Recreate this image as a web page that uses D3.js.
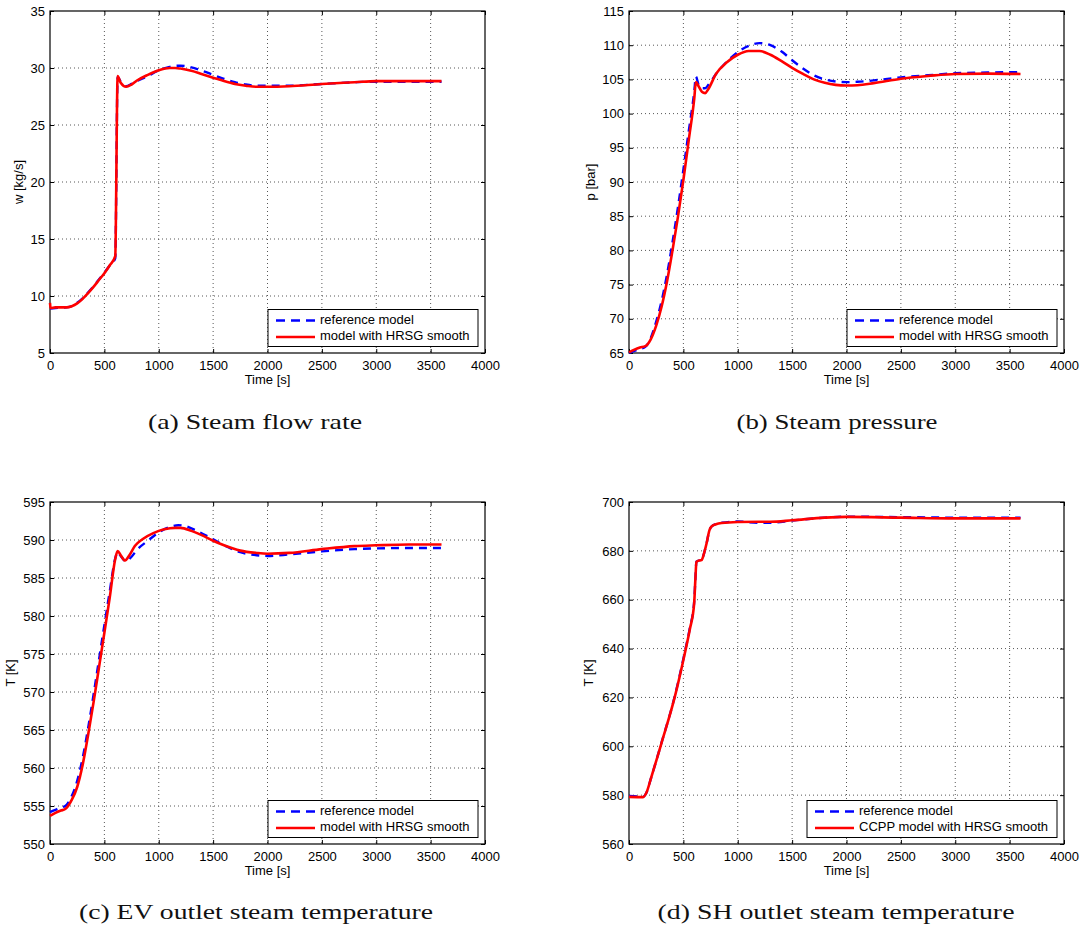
<!DOCTYPE html>
<html>
<head>
<meta charset="utf-8">
<script src="https://cdn.jsdelivr.net/npm/d3@7"></script>
<style>
  html, body { margin: 0; padding: 0; background: #fff; }
  svg { display: block; }
  .tick text { font-family: "Liberation Sans", Arial, sans-serif; font-size: 13px; fill: #000; }
  .lbl { font-family: "Liberation Sans", Arial, sans-serif; font-size: 13px; fill: #000; }
  .cap { font-family: "Liberation Serif", "Times New Roman", serif; font-size: 21px; fill: #111; }
</style>
</head>
<body>
<svg id="fig" width="1090" height="931"></svg>
<script>
// ---- shared axis ticks ----
const timeTicks = [0, 500, 1000, 1500, 2000, 2500, 3000, 3500, 4000];
const flowTicks = [5, 10, 15, 20, 25, 30, 35];
const pressTicks = [65, 70, 75, 80, 85, 90, 95, 100, 105, 110, 115];
const evTempTicks = [550, 555, 560, 565, 570, 575, 580, 585, 590, 595];
const shTempTicks = [560, 580, 600, 620, 640, 660, 680, 700];

const seriesNames = ["reference model", "model with HRSG smooth"];
const seriesNamesSH = ["reference model", "CCPP model with HRSG smooth"];

// ---- (a) steam flow rate [kg/s] ----
const timeFlowRef = [0, 50, 150, 200, 250, 300, 350, 400, 450, 500, 550, 600, 622, 650, 700, 750, 800, 900, 1000, 1100, 1150, 1200, 1300, 1400, 1500, 1600, 1700, 1800, 1900, 2000, 2200, 2500, 2800, 3000, 3300, 3600];
const flowRef = [8.9, 8.95, 9.0, 9.1, 9.4, 9.8, 10.3, 10.85, 11.45, 12.05, 12.7, 13.3, 29.2, 28.8, 28.4, 28.6, 28.85, 29.3, 29.8, 30.1, 30.2, 30.2, 30.05, 29.75, 29.4, 29.05, 28.75, 28.55, 28.45, 28.45, 28.45, 28.6, 28.75, 28.8, 28.8, 28.8];
const timeFlowHrsg = [0, 5, 50, 150, 200, 250, 300, 350, 400, 450, 500, 550, 600, 622, 650, 700, 750, 800, 900, 1000, 1100, 1150, 1200, 1300, 1400, 1500, 1600, 1700, 1800, 1900, 2000, 2200, 2500, 2800, 3000, 3300, 3600];
const flowHrsg = [9.4, 8.95, 9.0, 9.0, 9.1, 9.35, 9.75, 10.25, 10.8, 11.4, 12.0, 12.7, 13.5, 29.3, 28.7, 28.35, 28.55, 28.9, 29.4, 29.8, 30.0, 30.0, 29.95, 29.75, 29.45, 29.15, 28.85, 28.6, 28.45, 28.35, 28.35, 28.4, 28.6, 28.75, 28.85, 28.85, 28.85];

// ---- (b) steam pressure [bar] ----
const timePress = [0, 50, 100, 150, 200, 250, 300, 350, 400, 450, 500, 550, 600, 615, 640, 670, 700, 730, 800, 900, 1000, 1100, 1200, 1300, 1400, 1500, 1600, 1700, 1800, 1900, 2000, 2100, 2250, 2500, 2750, 3000, 3300, 3600];
const pressRef = [65.0, 65.3, 65.6, 65.9, 67.2, 69.6, 72.6, 76.5, 81.2, 86.3, 91.8, 97.5, 103.2, 105.4, 104.2, 103.7, 103.7, 104.2, 105.8, 107.6, 109.0, 109.9, 110.3, 110.0, 109.1, 107.8, 106.6, 105.6, 105.0, 104.7, 104.6, 104.65, 104.85, 105.3, 105.6, 105.9, 106.0, 106.1];
const pressHrsg = [65.1, 65.5, 65.8, 66.0, 67.0, 69.0, 71.8, 75.5, 80.0, 84.9, 90.3, 96.2, 102.2, 104.6, 104.0, 103.2, 103.0, 103.6, 105.8, 107.5, 108.6, 109.15, 109.15, 108.6, 107.7, 106.7, 105.8, 105.0, 104.5, 104.2, 104.1, 104.15, 104.45, 105.1, 105.5, 105.8, 105.85, 105.8];

// ---- (c) EV outlet steam temperature [K] ----
const timeEvRef = [0, 50, 100, 140, 200, 250, 300, 350, 400, 450, 500, 550, 600, 622, 650, 700, 750, 800, 900, 1000, 1100, 1180, 1250, 1350, 1500, 1600, 1750, 1900, 2000, 2200, 2500, 2800, 3000, 3300, 3600];
const evRef = [554.2, 554.5, 554.8, 555.0, 556.3, 558.3, 561.3, 565.2, 569.6, 574.2, 578.8, 583.3, 587.6, 588.4, 587.9, 587.2, 587.8, 588.7, 589.9, 591.0, 591.7, 591.95, 591.8, 591.2, 590.1, 589.3, 588.4, 588.0, 587.9, 588.1, 588.5, 588.8, 588.9, 588.95, 588.95];
const timeEvHrsg = [0, 50, 100, 140, 200, 250, 300, 350, 400, 450, 500, 550, 600, 622, 650, 690, 730, 780, 850, 950, 1050, 1150, 1200, 1300, 1400, 1500, 1600, 1750, 1900, 2000, 2200, 2500, 2800, 3000, 3300, 3600];
const evHrsg = [553.7, 554.1, 554.4, 554.6, 555.8, 557.5, 560.4, 564.3, 568.6, 573.2, 577.8, 582.5, 587.5, 588.55, 588.0, 587.3, 588.0, 589.2, 590.1, 590.9, 591.4, 591.6, 591.6, 591.2, 590.6, 589.9, 589.3, 588.6, 588.3, 588.2, 588.3, 588.8, 589.2, 589.3, 589.4, 589.4];

// ---- (d) SH outlet steam temperature [K] ----
const timeSh = [0, 130, 160, 206, 298, 421, 513, 560, 599, 610, 620, 640, 667, 690, 713, 740, 760, 800, 851, 1000, 1200, 1300, 1500, 1800, 2000, 2500, 3000, 3600];
const shRef = [579.7, 579.4, 581.0, 587.5, 601.3, 620.5, 638.5, 648.5, 659.0, 668.0, 675.6, 676.0, 676.3, 679.0, 683.0, 688.5, 690.0, 691.0, 691.5, 692.0, 691.5, 691.5, 692.4, 693.6, 694.0, 693.8, 693.6, 693.6];
const shHrsg = [579.3, 579.2, 581.0, 587.5, 601.2, 620.2, 638.0, 648.0, 658.4, 668.0, 675.5, 676.0, 676.2, 679.0, 683.0, 688.5, 690.0, 690.9, 691.4, 691.8, 691.9, 691.9, 692.5, 693.6, 693.9, 693.6, 693.3, 693.3];

const svg = d3.select("#fig");

const panels = [
  { left: 50, top: 11, yDomain: [5, 35], yTicks: flowTicks, yLabel: "w [kg/s]", yLabelOff: 30,
    ref: [timeFlowRef, flowRef], hrsg: [timeFlowHrsg, flowHrsg], names: seriesNames, legendW: 210,
    caption: "(a) Steam flow rate", capY: 424, capX: 255, capLen: 214 },
  { left: 629, top: 11, yDomain: [65, 115], yTicks: pressTicks, yLabel: "p [bar]", yLabelOff: 37,
    ref: [timePress, pressRef], hrsg: [timePress, pressHrsg], names: seriesNames, legendW: 210,
    caption: "(b) Steam pressure", capY: 424, capX: 837, capLen: 201 },
  { left: 50, top: 502, yDomain: [550, 595], yTicks: evTempTicks, yLabel: "T [K]", yLabelOff: 38,
    ref: [timeEvRef, evRef], hrsg: [timeEvHrsg, evHrsg], names: seriesNames, legendW: 210,
    caption: "(c) EV outlet steam temperature", capY: 914, capX: 256, capLen: 354 },
  { left: 629, top: 502, yDomain: [560, 700], yTicks: shTempTicks, yLabel: "T [K]", yLabelOff: 39,
    ref: [timeSh, shRef], hrsg: [timeSh, shHrsg], names: seriesNamesSH, legendW: 250,
    caption: "(d) SH outlet steam temperature", capY: 914, capX: 836, capLen: 357 }
];

const W = 435, H = 342;
const fmt = d3.format("d");

panels.forEach(p => {
  const g = svg.append("g").attr("transform", `translate(${p.left},${p.top})`);
  const x = d3.scaleLinear().domain([0, 4000]).range([0, W]);
  const y = d3.scaleLinear().domain(p.yDomain).range([H, 0]);

  // dotted grid at interior ticks
  const grid = g.append("g").attr("stroke", "#444").attr("stroke-width", 0.9)
    .attr("stroke-dasharray", "1,3");
  grid.selectAll(".gx").data(timeTicks.slice(1, -1)).join("line")
    .attr("x1", d => x(d)).attr("x2", d => x(d)).attr("y1", 0).attr("y2", H);
  grid.selectAll(".gy").data(p.yTicks.slice(1, -1)).join("line")
    .attr("y1", d => y(d)).attr("y2", d => y(d)).attr("x1", 0).attr("x2", W);

  // axes with inward ticks on all four sides
  g.append("g").attr("transform", `translate(0,${H})`)
    .call(d3.axisBottom(x).tickValues(timeTicks).tickFormat(fmt).tickSizeInner(-4).tickSizeOuter(0).tickPadding(8))
    .call(a => a.select(".domain").remove());
  g.append("g")
    .call(d3.axisTop(x).tickValues(timeTicks).tickSizeInner(-4).tickSizeOuter(0).tickFormat(""))
    .call(a => a.select(".domain").remove());
  g.append("g")
    .call(d3.axisLeft(y).tickValues(p.yTicks).tickFormat(fmt).tickSizeInner(-4).tickSizeOuter(0).tickPadding(5))
    .call(a => a.select(".domain").remove());
  g.append("g").attr("transform", `translate(${W},0)`)
    .call(d3.axisRight(y).tickValues(p.yTicks).tickSizeInner(-4).tickSizeOuter(0).tickFormat(""))
    .call(a => a.select(".domain").remove());
  g.selectAll(".tick line").attr("stroke", "#000").attr("stroke-width", 1);

  g.append("rect").attr("width", W).attr("height", H)
    .attr("fill", "none").attr("stroke", "#000").attr("stroke-width", 1.2);

  // axis titles
  g.append("text").attr("class", "lbl").attr("x", W / 2).attr("y", H + 28)
    .attr("text-anchor", "middle").attr("dominant-baseline", "middle").text("Time [s]");
  g.append("text").attr("class", "lbl")
    .attr("transform", `translate(${-p.yLabelOff},${H / 2}) rotate(-90)`)
    .attr("text-anchor", "middle").attr("dominant-baseline", "middle").text(p.yLabel);

  // curves
  const line = d3.line().x(d => x(d[0])).y(d => y(d[1])).curve(d3.curveMonotoneX);
  const refPts = p.ref[0].map((t, i) => [t, p.ref[1][i]]);
  const hrsgPts = p.hrsg[0].map((t, i) => [t, p.hrsg[1][i]]);
  g.append("path").datum(refPts).attr("d", line).attr("fill", "none")
    .attr("stroke", "#0000ff").attr("stroke-width", 2.4).attr("stroke-dasharray", "8,6");
  g.append("path").datum(hrsgPts).attr("d", line).attr("fill", "none")
    .attr("stroke", "#ff0000").attr("stroke-width", 2.6).attr("stroke-linejoin", "round");

  // legend box in the lower right corner
  const lh = 37;
  const lx = W - 7 - p.legendW, ly = H - 6.5 - lh;
  const lg = g.append("g").attr("transform", `translate(${lx},${ly})`);
  lg.append("rect").attr("width", p.legendW).attr("height", lh)
    .attr("fill", "#fff").attr("stroke", "#000").attr("stroke-width", 1);
  const rows = [
    { name: p.names[0], color: "#0000ff", dash: "9,6", w: 2.4 },
    { name: p.names[1], color: "#ff0000", dash: null, w: 2.6 }
  ];
  rows.forEach((r, i) => {
    const ry = 11 + i * 16.5;
    lg.append("line").attr("x1", 8).attr("x2", 47).attr("y1", ry).attr("y2", ry)
      .attr("stroke", r.color).attr("stroke-width", r.w)
      .attr("stroke-dasharray", r.dash);
    lg.append("text").attr("class", "lbl").attr("x", 52).attr("y", ry)
      .attr("dominant-baseline", "middle").text(r.name);
  });

  // sub-caption
  svg.append("text").attr("class", "cap").attr("x", p.capX).attr("y", p.capY)
    .attr("text-anchor", "middle").attr("dominant-baseline", "middle")
    .attr("textLength", p.capLen).attr("lengthAdjust", "spacingAndGlyphs")
    .text(p.caption);
});
</script>
</body>
</html>
